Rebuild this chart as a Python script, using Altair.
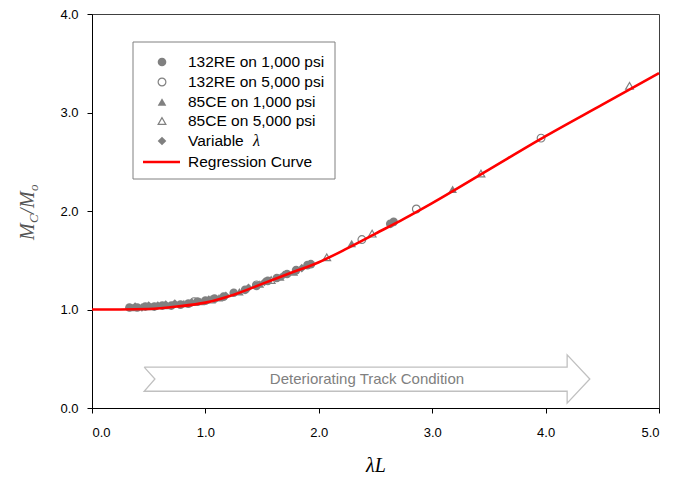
import altair as alt
import pandas as pd

W, H = 567, 394
XMAX, YMAX = 5.0, 4.0

# Regression curve
curve_x = [0.0, 0.25, 0.5, 0.75, 1.0, 1.25, 1.5, 1.75, 2.0, 2.25, 2.5, 2.75, 3.0, 3.5, 4.0, 4.5, 5.0]
curve_y = [1.0, 1.0, 1.005, 1.03, 1.07, 1.15, 1.26, 1.37, 1.48, 1.62, 1.77, 1.92, 2.08, 2.42, 2.76, 3.08, 3.40]

# Data series
s1_name = "132RE on 1,000 psi"
s1_x = [0.33, 0.40, 0.47, 0.55, 0.62, 0.70, 0.78, 0.85, 0.93, 1.00, 1.08, 1.16, 1.25, 1.35, 1.45, 1.55, 1.63, 1.72, 1.80, 1.90, 1.93, 2.63, 2.66]
s1_y = [1.02, 1.02, 1.03, 1.03, 1.04, 1.04, 1.05, 1.06, 1.08, 1.09, 1.11, 1.13, 1.17, 1.20, 1.24, 1.29, 1.32, 1.36, 1.40, 1.45, 1.46, 1.87, 1.89]

s2_name = "132RE on 5,000 psi"
s2_x = [0.90, 1.45, 2.38, 2.86, 3.96]
s2_y = [1.08, 1.25, 1.71, 2.02, 2.74]

s3_name = "85CE on 1,000 psi"
s3_x = [0.36, 0.52, 0.66, 0.81, 0.96, 1.12, 1.30, 1.48, 1.66, 1.78, 2.29, 3.18]
s3_y = [1.02, 1.03, 1.04, 1.06, 1.08, 1.12, 1.18, 1.26, 1.33, 1.38, 1.67, 2.22]

s4_name = "85CE on 5,000 psi"
s4_x = [1.05, 1.58, 2.07, 2.47, 3.43, 4.74]
s4_y = [1.10, 1.30, 1.53, 1.77, 2.38, 3.27]

s5_name = "Variable λ"
s5_x = [0.38, 0.44, 0.50, 0.58, 0.65, 0.73, 0.88, 1.03, 1.18, 1.38, 1.52, 1.69, 1.85]
s5_y = [1.03, 1.02, 1.04, 1.04, 1.05, 1.06, 1.07, 1.10, 1.14, 1.22, 1.28, 1.35, 1.42]

series_names = [s1_name, s2_name, s3_name, s4_name, s5_name]
series_shapes = ["circle", "circle", "triangle-up", "triangle-up", "diamond"]
series_filled = [True, False, True, False, True]

axis_ticks = [0, 1, 2, 3, 4, 5]
y_ticks = [0, 1, 2, 3, 4]

GRAY = "#808080"
FILLED_SIZE = 75
OPEN_SIZE = 60

rows = []
for name, xs, ys, filled in [
    (s1_name, s1_x, s1_y, True),
    (s2_name, s2_x, s2_y, False),
    (s3_name, s3_x, s3_y, True),
    (s4_name, s4_x, s4_y, False),
    (s5_name, s5_x, s5_y, True),
]:
    for a, b in zip(xs, ys):
        rows.append({"x": a, "y": b, "series": name, "filled": filled})
pts = pd.DataFrame(rows)
curve = pd.DataFrame({"x": curve_x, "y": curve_y})

xscale = alt.Scale(domain=[0, XMAX], nice=False, zero=False)
yscale = alt.Scale(domain=[0, YMAX], nice=False, zero=False)
shape_scale = alt.Scale(domain=series_names, range=series_shapes)

X = alt.X("x:Q", scale=xscale,
          axis=alt.Axis(values=axis_ticks, format=".1f", title="λL",
                        titleFont="Liberation Serif", titleFontStyle="italic",
                        titleFontWeight="normal", titleFontSize=20, titleColor="black",
                        titlePadding=16, labelPadding=13))
Y = alt.Y("y:Q", scale=yscale,
          axis=alt.Axis(values=y_ticks, format=".1f", title=None, labelPadding=9))

filled_layer = alt.Chart(pts[pts.filled]).mark_point(
    filled=True, size=FILLED_SIZE, color=GRAY, opacity=1
).encode(x=X, y=Y, shape=alt.Shape("series:N", scale=shape_scale, legend=None))

open_layer = alt.Chart(pts[~pts.filled]).mark_point(
    filled=False, size=OPEN_SIZE, color=GRAY, opacity=1, strokeWidth=1.2
).encode(x=X, y=Y, shape=alt.Shape("series:N", scale=shape_scale, legend=None))

curve_layer = alt.Chart(curve).mark_line(
    color="#ff0000", strokeWidth=2.6, interpolate="monotone"
).encode(x=X, y=Y)

# --- arrow annotation (data coordinates) ---
arrow_x = [0.46, 4.19, 4.19, 4.39, 4.19, 4.19, 0.46, 0.555, 0.46]
arrow_y = [0.415, 0.415, 0.54, 0.294, 0.05, 0.17, 0.17, 0.294, 0.415]
arrow = pd.DataFrame({"x": arrow_x, "y": arrow_y, "i": list(range(len(arrow_x)))})
arrow_layer = alt.Chart(arrow).mark_line(color="#c0c0c0", strokeWidth=1.3).encode(
    x=alt.X("x:Q", scale=xscale), y=alt.Y("y:Q", scale=yscale), order="i:Q")
arrow_text = alt.Chart(pd.DataFrame({"x": [2.425], "y": [0.294],
                                     "t": ["Deteriorating Track Condition"]})).mark_text(
    font="Liberation Sans", fontSize=15, color=GRAY, align="center", baseline="middle"
).encode(x=alt.X("x:Q", scale=xscale), y=alt.Y("y:Q", scale=yscale), text="t:N")

# --- legend (pixel layout converted to data coordinates) ---
def px_x(p):
    return p / W * XMAX

def px_y(p):
    return (H - p) / H * YMAX

leg_row_px = [48, 68, 88, 107, 127, 148]
box = pd.DataFrame({"x": [px_x(41)], "x2": [px_x(243)], "y": [px_y(28)], "y2": [px_y(165)]})
box_layer = alt.Chart(box).mark_rect(fill="white", stroke=GRAY, strokeWidth=1).encode(
    x=alt.X("x:Q", scale=xscale), x2="x2:Q", y=alt.Y("y:Q", scale=yscale), y2="y2:Q")

leg_sym = pd.DataFrame({"x": [px_x(70)] * 5, "y": [px_y(p) for p in leg_row_px[:5]],
                        "series": series_names, "filled": series_filled})
leg_filled = alt.Chart(leg_sym[leg_sym.filled]).mark_point(
    filled=True, size=FILLED_SIZE, color=GRAY, opacity=1
).encode(x=alt.X("x:Q", scale=xscale), y=alt.Y("y:Q", scale=yscale),
         shape=alt.Shape("series:N", scale=shape_scale, legend=None))
leg_open = alt.Chart(leg_sym[~leg_sym.filled]).mark_point(
    filled=False, size=OPEN_SIZE, color=GRAY, opacity=1, strokeWidth=1.2
).encode(x=alt.X("x:Q", scale=xscale), y=alt.Y("y:Q", scale=yscale),
         shape=alt.Shape("series:N", scale=shape_scale, legend=None))

leg_labels = ["132RE on 1,000 psi", "132RE on 5,000 psi", "85CE on 1,000 psi",
              "85CE on 5,000 psi", "Variable ", "Regression Curve"]
leg_txt = pd.DataFrame({"x": [px_x(96)] * 6, "y": [px_y(p) for p in leg_row_px], "t": leg_labels})
leg_text = alt.Chart(leg_txt).mark_text(
    font="Liberation Sans", fontSize=15.5, color="black", align="left", baseline="middle"
).encode(x=alt.X("x:Q", scale=xscale), y=alt.Y("y:Q", scale=yscale), text="t:N")
leg_lam = alt.Chart(pd.DataFrame({"x": [px_x(161)], "y": [px_y(leg_row_px[4])], "t": ["λ"]})).mark_text(
    font="Liberation Serif", fontStyle="italic", fontSize=16, color="black", align="left", baseline="middle"
).encode(x=alt.X("x:Q", scale=xscale), y=alt.Y("y:Q", scale=yscale), text="t:N")
leg_line = alt.Chart(pd.DataFrame({"x": [px_x(51), px_x(88)],
                                   "y": [px_y(leg_row_px[5])] * 2})).mark_line(
    color="#ff0000", strokeWidth=2.6
).encode(x=alt.X("x:Q", scale=xscale), y=alt.Y("y:Q", scale=yscale))

# --- y axis title pieces: M_C / M_o (rotated) ---
ytitle_parts = [
    ("M", -58, 226, 20),
    ("C", -54, 209, 13),
    ("/", -58, 200, 20),
    ("M", -58, 194, 20),
    ("o", -54, 177, 13),
]
ytitle_layers = []
for t, px, py, fs in ytitle_parts:
    ytitle_layers.append(
        alt.Chart(pd.DataFrame({"d": [0]})).mark_text(
            text=t, font="Liberation Serif", fontStyle="italic", fontSize=fs,
            color="#555555", angle=270, align="left", baseline="alphabetic"
        ).encode(x=alt.value(px), y=alt.value(py))
    )

chart = alt.layer(
    arrow_layer, arrow_text,
    filled_layer, open_layer, curve_layer,
    box_layer, leg_filled, leg_open, leg_text, leg_lam, leg_line,
    *ytitle_layers
).properties(
    width=W, height=H,
    autosize=alt.AutoSizeParams(type="none"),
    padding={"left": 84, "top": 6, "right": 17, "bottom": 72},
).configure_view(
    stroke="#404040", strokeWidth=1
).configure_axis(
    grid=False, domainColor="black", tickColor="black", tickSize=5,
    labelFont="Liberation Sans", labelFontSize=13, labelColor="black",
    domainWidth=1, tickWidth=1
)

chart.save("out.html", embed_options={"renderer": "svg", "actions": False})
